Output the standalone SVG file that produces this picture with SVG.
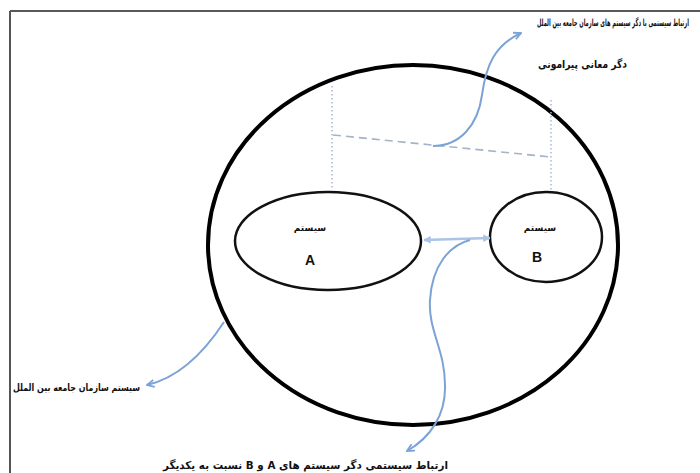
<svg xmlns="http://www.w3.org/2000/svg" width="700" height="473" viewBox="0 0 700 473">
<style>
.fa{font-family:"DejaVu Sans",sans-serif;fill:#111;direction:rtl;unicode-bidi:embed;font-weight:bold}
.lat{font-family:"Liberation Sans",Arial,sans-serif;font-weight:bold;fill:#111}
.blue{fill:none;stroke:#7ba3d6;stroke-width:2}
.dot{fill:none;stroke:#a9b8d4;stroke-width:1.5;stroke-dasharray:1.5 2.5}
</style>
<defs>
<marker id="ah" viewBox="0 0 10 10" refX="9" refY="5" markerWidth="9" markerHeight="9" orient="auto" markerUnits="userSpaceOnUse">
<path d="M1,1 L9,5 L1,9" fill="none" stroke="#7ba3d6" stroke-width="2"/>
</marker>
<marker id="ahl" viewBox="0 0 10 10" refX="9" refY="5" markerWidth="8" markerHeight="8" orient="auto-start-reverse" markerUnits="userSpaceOnUse">
<path d="M1,1 L9,5 L1,9 Z" fill="#a9c4e6" stroke="#a9c4e6" stroke-width="1"/>
</marker>
</defs>
<rect width="700" height="473" fill="#fff"/>
<g id="frame">
<line x1="10" y1="11" x2="700" y2="11" stroke="#222" stroke-width="1.5"/>
<line x1="10" y1="11" x2="10" y2="473" stroke="#555" stroke-width="2"/>
</g>
<g id="intl-system">
<ellipse cx="413" cy="245" rx="205" ry="180" fill="none" stroke="#000" stroke-width="4"/>
</g>
<g id="system-a">
<ellipse cx="328" cy="241" rx="93" ry="49" fill="none" stroke="#111" stroke-width="2.5"/>
<text class="fa" x="310" y="231" font-size="9" text-anchor="middle">سیستم</text>
<text class="lat" x="310" y="265" font-size="14" text-anchor="middle">A</text>
</g>
<g id="system-b">
<ellipse cx="546" cy="237" rx="56" ry="45" fill="none" stroke="#111" stroke-width="2.5"/>
<text class="fa" x="540" y="231" font-size="9" text-anchor="middle">سیستم</text>
<text class="lat" x="537" y="262" font-size="14" text-anchor="middle">B</text>
</g>
<g id="connectors">
<line class="dot" x1="332" y1="86" x2="332" y2="189"/>
<line class="dot" x1="551" y1="100" x2="551" y2="192"/>
<line x1="333" y1="135" x2="551" y2="157" stroke="#a4b3c9" stroke-width="1.6" stroke-dasharray="8 5"/>
<line x1="424" y1="240" x2="490" y2="238" stroke="#a9c4e6" stroke-width="2.5" marker-start="url(#ahl)" marker-end="url(#ahl)"/>
<path class="blue" d="M433,146 C460,146 478,125 482,95 C486,65 495,45 521,33" marker-end="url(#ah)"/>
<path class="blue" d="M470,240 C450,245 432,265 430,300 C428,330 445,350 445,385 C446,415 430,438 407,451" marker-end="url(#ah)"/>
<path class="blue" d="M224,322 C207,348 182,377 147,385" marker-end="url(#ah)"/>
</g>
<g id="labels">
<text class="fa" transform="translate(613,26) scale(0.49,1)" x="0" y="0" font-size="10" text-anchor="middle" textLength="310" lengthAdjust="spacingAndGlyphs">ارتباط سیستمی با دگر سیستم های سازمان جامعه بین الملل</text>
<text class="fa" x="538" y="68" font-size="11" text-anchor="end" textLength="89" lengthAdjust="spacingAndGlyphs">دگر معانی پیرامونی</text>
<text class="fa" x="13" y="391" font-size="10" text-anchor="end" textLength="127" lengthAdjust="spacingAndGlyphs">سیستم سازمان جامعه بین الملل</text>
<text class="fa" x="448" y="469" font-size="11" text-anchor="start" textLength="285" lengthAdjust="spacingAndGlyphs">ارتباط سیستمی دگر سیستم های A و B نسبت به یکدیگر</text>
</g>
</svg>
